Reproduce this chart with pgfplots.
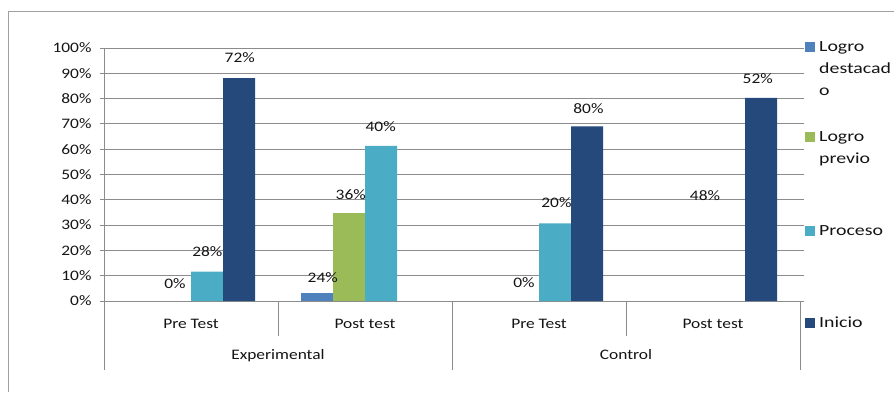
\documentclass[border=0pt]{standalone}
\usepackage{fontspec}
\setmainfont{Carlito}[FakeStretch=1.2]
\newfontfamily\legfont{Carlito}[FakeStretch=1.28]
\usepackage{pgfplots}
\pgfplotsset{compat=1.18}

\definecolor{cLD}{HTML}{4F81BD}
\definecolor{cLP}{HTML}{9BBB59}
\definecolor{cPR}{HTML}{4BACC6}
\definecolor{cIN}{HTML}{24497A}
\definecolor{cGrid}{HTML}{8C8C8C}
\definecolor{cFrame}{HTML}{A0A0A0}
\definecolor{cText}{HTML}{141414}

\begin{document}
\begin{tikzpicture}
  % page area
  \path[use as bounding box] (0pt,0pt) rectangle (894pt,392pt);
  % chart frame (top and left edges)
  \draw[cFrame, line width=1pt] (8pt,0pt) -- (8pt,380pt) -- (894pt,380pt);

  \begin{axis}[
    at={(104pt,91pt)}, anchor=south west,
    scale only axis, width=696pt, height=253pt,
    xmin=-0.5, xmax=3.5, ymin=0, ymax=100,
    clip=false,
    axis line style={draw=none},
    ytick={0,10,...,100},
    yticklabel={\pgfmathprintnumber{\tick}\%},
    /pgf/number format/assume math mode=true,
    ymajorgrids, grid style={cGrid, line width=0.9pt},
    y tick style={cGrid, line width=0.9pt}, major tick length=4pt,
    tick align=outside,
    xtick={0,1,2,3},
    xticklabels={Pre Test, Post test, Pre Test, Post test},
    x tick style={draw=none},
    extra x ticks={0.5,2.5},
    extra x tick labels={Experimental, Control},
    extra x tick style={grid=none, major tick length=0pt,
      xticklabel style={yshift=-34pt}},
    ticklabel style={font=\fontsize{14.5}{16}\selectfont, text=cText},
    yticklabel style={xshift=-5pt},
    xticklabel style={yshift=-11pt},
    every node near coord/.style={anchor=center, font=\fontsize{14.5}{16}\selectfont, text=cText},
  ]
    % axis lines and category separators
    \draw[cGrid, line width=0.9pt] (axis cs:-0.5,100) -- (axis cs:-0.5,0) -- (axis cs:3.5,0);
    \draw[cGrid, line width=0.9pt] (axis cs:-0.5,0) -- ++(0pt,-69pt);
    \draw[cGrid, line width=0.9pt] (axis cs:1.5,0) -- ++(0pt,-69pt);
    \draw[cGrid, line width=0.9pt] (axis cs:3.5,0) -- ++(0pt,-69pt);
    \draw[cGrid, line width=0.9pt] (axis cs:0.5,0) -- ++(0pt,-35pt);
    \draw[cGrid, line width=0.9pt] (axis cs:2.5,0) -- ++(0pt,-35pt);

    % Logro destacado
    \addplot[ybar, bar width=32pt, bar shift=-48pt, fill=cLD, draw=none]
      coordinates {(1,3.3)};
    % Logro previo
    \addplot[ybar, bar width=32pt, bar shift=-16pt, fill=cLP, draw=none]
      coordinates {(1,34.6)};
    % Proceso
    \addplot[ybar, bar width=32pt, bar shift=16pt, fill=cPR, draw=none]
      coordinates {(0,11.6) (1,61.3) (2,30.7)};
    % Inicio
    \addplot[ybar, bar width=32pt, bar shift=48pt, fill=cIN, draw=none]
      coordinates {(0,88.1) (2,69) (3,80.3)};

    % data labels
    \addplot[draw=none, nodes near coords, point meta=explicit symbolic]
      table[meta=lab] {
        x      y     lab
        -0.092 7.0   0\%
        0.094  19.4  28\%
        0.280  96.3  72\%
        0.757  9.3   24\%
        0.918  42.2  36\%
        1.090  69.0  40\%
        1.914  7.3   0\%
        2.100  38.7  20\%
        2.284  76.1  80\%
        2.954  41.6  48\%
        3.257  88.0  52\%
      };
  \end{axis}

  % legend
  \begin{scope}[every node/.style={anchor=base west, inner sep=0pt, text=cText,
      font=\legfont\fontsize{15.5}{17}\selectfont}]
    \fill[cLD] (805pt,340pt) rectangle (815pt,350pt);
    \node at (819pt,341pt) {Logro};
    \node at (819pt,319pt) {destacad};
    \node at (819pt,297pt) {o};
    \fill[cLP] (805pt,250pt) rectangle (815pt,260pt);
    \node at (819pt,251pt) {Logro};
    \node at (819pt,229pt) {previo};
    \fill[cPR] (805pt,156pt) rectangle (815pt,166pt);
    \node at (819pt,157pt) {Proceso};
    \fill[cIN] (805pt,64pt) rectangle (815pt,74pt);
    \node at (819pt,65pt) {Inicio};
  \end{scope}
\end{tikzpicture}
\end{document}
